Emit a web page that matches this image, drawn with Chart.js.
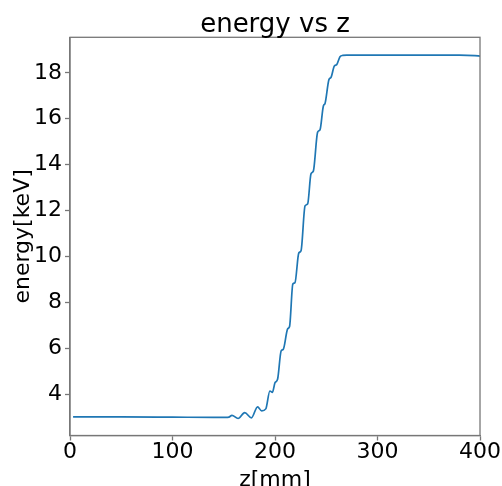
<!DOCTYPE html>
<html>
<head>
<meta charset="utf-8">
<script src="https://cdn.jsdelivr.net/npm/chart.js@4"></script>
<style>
  html, body { margin: 0; padding: 0; background: #fff; }
  #wrap { width: 502px; height: 486px; position: relative; }
</style>
</head>
<body>
<div id="wrap"><canvas id="chart"></canvas></div>
<script>
// energy along z
const zValues = [3, 50, 100, 140, 152, 155, 158, 164, 170.5, 177, 183, 187, 191, 195, 197.5, 200, 202.5,
  206, 208, 212.4, 214.2, 217.4, 219.5, 223.2, 225.4, 229.3, 231.9, 235.1, 237.4, 241.6, 243.9,
  247.2, 248.8, 252.7, 254.6, 257.9, 260.2, 263.4, 266, 270, 300, 350, 380, 395, 400];
const energyValues = [3.01, 3.01, 3.0, 2.99, 2.99, 3.0, 3.08, 2.94, 3.2, 2.97, 3.45, 3.27, 3.36, 4.14, 4.08, 4.5, 4.65,
  5.89, 5.95, 6.85, 6.95, 8.8, 8.86, 10.15, 10.25, 12.2, 12.3, 13.6, 13.72, 15.42, 15.52,
  16.56, 16.67, 17.72, 17.8, 18.3, 18.36, 18.7, 18.76, 18.77, 18.77, 18.77, 18.77, 18.75, 18.73];
const xTicks = [0, 100, 200, 300, 400];
const yTicks = [4, 6, 8, 10, 12, 14, 16, 18];
const TITLE = 'energy vs z';

const FONT = 'DejaVu Sans';
const AXIS = '#777';

// matplotlib-style box around the plot area, title centred over the axes
const frame = {
  id: 'frame',
  afterDatasetsDraw(chart) {
    const { ctx, chartArea: a } = chart;
    ctx.save();
    ctx.strokeStyle = AXIS;
    ctx.lineWidth = 1.3;
    ctx.strokeRect(a.left, a.top, a.right - a.left, a.bottom - a.top);
    ctx.fillStyle = '#000';
    ctx.font = '26px "' + FONT + '"';
    ctx.textAlign = 'center';
    ctx.textBaseline = 'alphabetic';
    ctx.fillText(TITLE, (a.left + a.right) / 2, 31.5);
    ctx.restore();
  }
};

new Chart(document.getElementById('chart'), {
  type: 'line',
  data: {
    datasets: [{
      data: zValues.map((z, i) => ({ x: z, y: energyValues[i] })),
      borderColor: '#1f77b4',
      borderWidth: 1.7,
      pointRadius: 0,
      cubicInterpolationMode: 'monotone',
      fill: false,
    }]
  },
  options: {
    responsive: true,
    maintainAspectRatio: false,
    animation: false,
    layout: { padding: { left: 0, right: 21.5, top: 37.3, bottom: 0 } },
    plugins: {
      legend: { display: false },
      tooltip: { enabled: false },
      title: { display: false },
    },
    scales: {
      x: {
        type: 'linear', min: 0, max: 400,
        afterBuildTicks: s => { s.ticks = xTicks.map(v => ({ value: v })); },
        afterFit: s => { s.height = 50.5; },
        grid: { drawOnChartArea: false, tickLength: 5, tickColor: AXIS, tickWidth: 1.3 },
        border: { color: AXIS, width: 1.3 },
        ticks: { color: '#000', padding: 1, maxRotation: 0, font: { family: FONT, size: 22, lineHeight: 1 } },
        title: {
          display: true, text: 'z[mm]', color: '#000',
          font: { family: FONT, size: 22, lineHeight: 1 },
          padding: { top: 0, bottom: -5 },
        },
      },
      y: {
        type: 'linear', min: 2.2, max: 19.55,
        afterBuildTicks: s => { s.ticks = yTicks.map(v => ({ value: v })); },
        afterFit: s => { s.width = 70; },
        grid: { drawOnChartArea: false, tickLength: 5, tickColor: AXIS, tickWidth: 1.3 },
        border: { color: AXIS, width: 1.3 },
        ticks: { color: '#000', padding: 3, font: { family: FONT, size: 22, lineHeight: 1 } },
        title: {
          display: true, text: 'energy[keV]', color: '#000',
          font: { family: FONT, size: 22, lineHeight: 1 },
          padding: { top: 12, bottom: 0 },
        },
      },
    },
  },
  plugins: [frame],
});
</script>
</body>
</html>
